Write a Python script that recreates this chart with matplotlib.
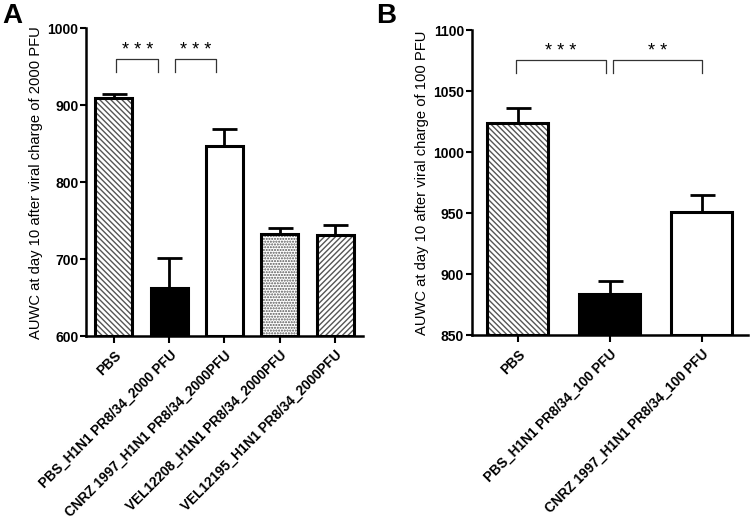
import numpy as np
import matplotlib
matplotlib.use("Agg")
from matplotlib import pyplot as plt

plt.rcParams['font.family'] = ['Liberation Sans', 'DejaVu Sans']

# Panel A data ---------------------------------------------------#
labels_a = ["PBS", "PBS_H1N1 PR8/34_2000 PFU", "CNRZ 1997_H1N1 PR8/34_2000PFU",
            "VEL12208_H1N1 PR8/34_2000PFU", "VEL12195_H1N1 PR8/34_2000PFU"]
means_a = [909, 663, 847, 733, 732]
errs_a = [5, 38, 22, 8, 12]
hatch_a = ["\\\\\\\\\\\\", None, None, "......", "//////"]
fill_a = ["white", "black", "white", "white", "white"]
ticks_a = [600, 700, 800, 900, 1000]
ylabel_a = "AUWC at day 10 after viral charge of 2000 PFU"
sig_a = [(0.05, 0.8, "* * *"), (1.1, 1.85, "* * *")]

# Panel B data ---------------------------------------------------#
labels_b = ["PBS", "PBS_H1N1 PR8/34_100 PFU", "CNRZ 1997_H1N1 PR8/34_100 PFU"]
means_b = [1024, 884, 951]
errs_b = [12, 10, 14]
hatch_b = ["\\\\\\\\\\\\", None, None]
fill_b = ["white", "black", "white"]
ticks_b = [850, 900, 950, 1000, 1050, 1100]
ylabel_b = "AUWC at day 10 after viral charge of 100 PFU"
sig_b = [(-0.02, 0.96, "* * *"), (1.03, 2.0, "* *")]

fig = plt.figure(figsize=(7.5, 5.22), dpi=100)


def panel(ax, labels, means, errs, hatches, fills, ticks, ylabel, sigs,
          sig_top, sig_leg, width):
    x = np.arange(len(means))
    # hatched fill (gray hatch), then black outline on top
    for xi, m, h, f in zip(x, means, hatches, fills):
        if h:
            ax.bar(xi, m - ticks[0], width, bottom=ticks[0], color="white",
                   edgecolor="#555555", hatch=h, linewidth=0, zorder=2)
        else:
            ax.bar(xi, m - ticks[0], width, bottom=ticks[0], color=f,
                   linewidth=0, zorder=2)
    ax.bar(x, np.array(means) - ticks[0], width, bottom=ticks[0], fill=False,
           edgecolor="black", linewidth=2.2, zorder=3)
    ax.errorbar(x, means, yerr=[np.zeros(len(errs)), errs], fmt="none",
                ecolor="black", elinewidth=2, capsize=9, capthick=2, zorder=1)

    for x0, x1, txt in sigs:
        ax.plot([x0, x0, x1, x1], [sig_leg, sig_top, sig_top, sig_leg],
                color="#333333", lw=0.9, clip_on=False)
        ax.text((x0 + x1) / 2, sig_top, txt, ha="center", va="bottom",
                fontsize=13)

    ax.set_xlim(-0.5, len(means) - 0.5)
    ax.set_ylim(ticks[0], ticks[-1])
    ax.set_yticks(ticks)
    ax.set_yticklabels([str(t) for t in ticks], fontweight="bold", fontsize=10)
    ax.set_xticks(x)
    ax.set_xticklabels(labels, rotation=45, ha="right", rotation_mode="anchor",
                       fontweight="bold", fontsize=9.8)
    ax.set_ylabel(ylabel, fontsize=10.6, labelpad=3)
    for s in ["top", "right"]:
        ax.spines[s].set_visible(False)
    for s in ["left", "bottom"]:
        ax.spines[s].set_linewidth(1.8)
    ax.tick_params(width=1.5, length=5, direction="out")
    ax.tick_params(axis="y", length=4, pad=1.5)


ax1 = fig.add_axes([0.1147, 0.356, 0.369, 0.590])
panel(ax1, labels_a, means_a, errs_a, hatch_a, fill_a, ticks_a, ylabel_a,
      sig_a, 960, 943, 0.67)

ax2 = fig.add_axes([0.629, 0.358, 0.368, 0.584])
panel(ax2, labels_b, means_b, errs_b, hatch_b, fill_b, ticks_b, ylabel_b,
      sig_b, 1076, 1065, 0.66)

fig.text(0.003, 0.995, "A", fontsize=20, fontweight="bold", va="top")
fig.text(0.502, 0.995, "B", fontsize=20, fontweight="bold", va="top")

fig.savefig("out.png", dpi=100)
